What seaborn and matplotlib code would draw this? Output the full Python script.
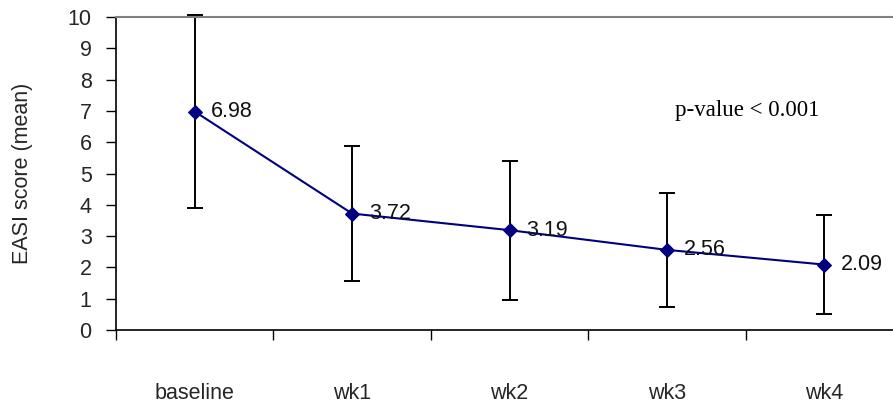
import matplotlib
matplotlib.use("Agg")
import matplotlib.pyplot as plt
import seaborn as sns
import pandas as pd
import numpy as np

# EASI scores over the treatment visits
visits = ["baseline", "wk1", "wk2", "wk3", "wk4"]
mean_scores = [6.98, 3.72, 3.19, 2.56, 2.09]
sd_scores = [3.08, 2.15, 2.22, 1.81, 1.58]
y_ticks = list(range(0, 11))
p_text = "p-value < 0.001"

sns.set_style("white")
plt.rcParams["font.family"] = ["Liberation Sans", "DejaVu Sans"]

df = pd.DataFrame({"visit": visits, "pos": np.arange(len(visits)),
                   "mean": mean_scores, "sd": sd_scores})

fig = plt.figure(figsize=(8.93, 4.07), dpi=100)
ax = fig.add_axes([116 / 893, 77 / 407, 787 / 893, 313 / 407])

# error bars (mean ± SD)
eb = ax.errorbar(df["pos"], df["mean"], yerr=df["sd"], fmt="none",
                 ecolor="black", elinewidth=1.4, capsize=6, capthick=1.4,
                 zorder=2)
for artist in eb.lines[1] + eb.lines[2]:
    artist.set_clip_on(False)

# mean trend line with diamond markers
sns.lineplot(data=df, x="pos", y="mean", ax=ax, color="#000080",
             linewidth=1.5, marker="D", markersize=7,
             markeredgecolor="#000080", markerfacecolor="#000080", zorder=3)

# value labels beside each point
for x, v in zip(df["pos"], df["mean"]):
    ax.annotate(f"{v:.2f}", (x, v), xytext=(12, 0), textcoords="offset points",
                va="center", ha="left", fontsize=15.5, color="#111111", zorder=4)

ax.text(3.51, 7.0, p_text, family="Liberation Serif", fontsize=16.5,
        ha="center", va="center", color="black")

ax.set_xlim(-0.5, len(visits) - 0.5)
ax.set_ylim(0, 10)
ax.set_yticks(y_ticks)
ax.set_yticklabels([str(t) for t in y_ticks], fontsize=15.5)

# category labels centred, tick marks on category boundaries
ax.set_xticks(df["pos"])
ax.set_xticklabels(visits, fontsize=15.5)
ax.set_xticks(np.arange(-0.5, len(visits)), minor=True)
ax.tick_params(axis="x", which="major", length=0, pad=38)
ax.tick_params(axis="x", which="minor", length=7, width=1, color="black",
               direction="out", bottom=True)
ax.tick_params(axis="y", which="major", length=7.5, width=1, color="black",
               direction="out", left=True, pad=10)

ax.set_xlabel("")
ax.set_ylabel("EASI score (mean)", fontsize=15.5)
ax.yaxis.set_label_coords(-83 / 787, 0.5)

for side in ["left", "bottom"]:
    ax.spines[side].set_color("black")
    ax.spines[side].set_linewidth(1.2)
ax.spines["top"].set_color("#808080")
ax.spines["top"].set_linewidth(1.5)
ax.spines["right"].set_visible(False)

fig.savefig("out.png", dpi=100)
